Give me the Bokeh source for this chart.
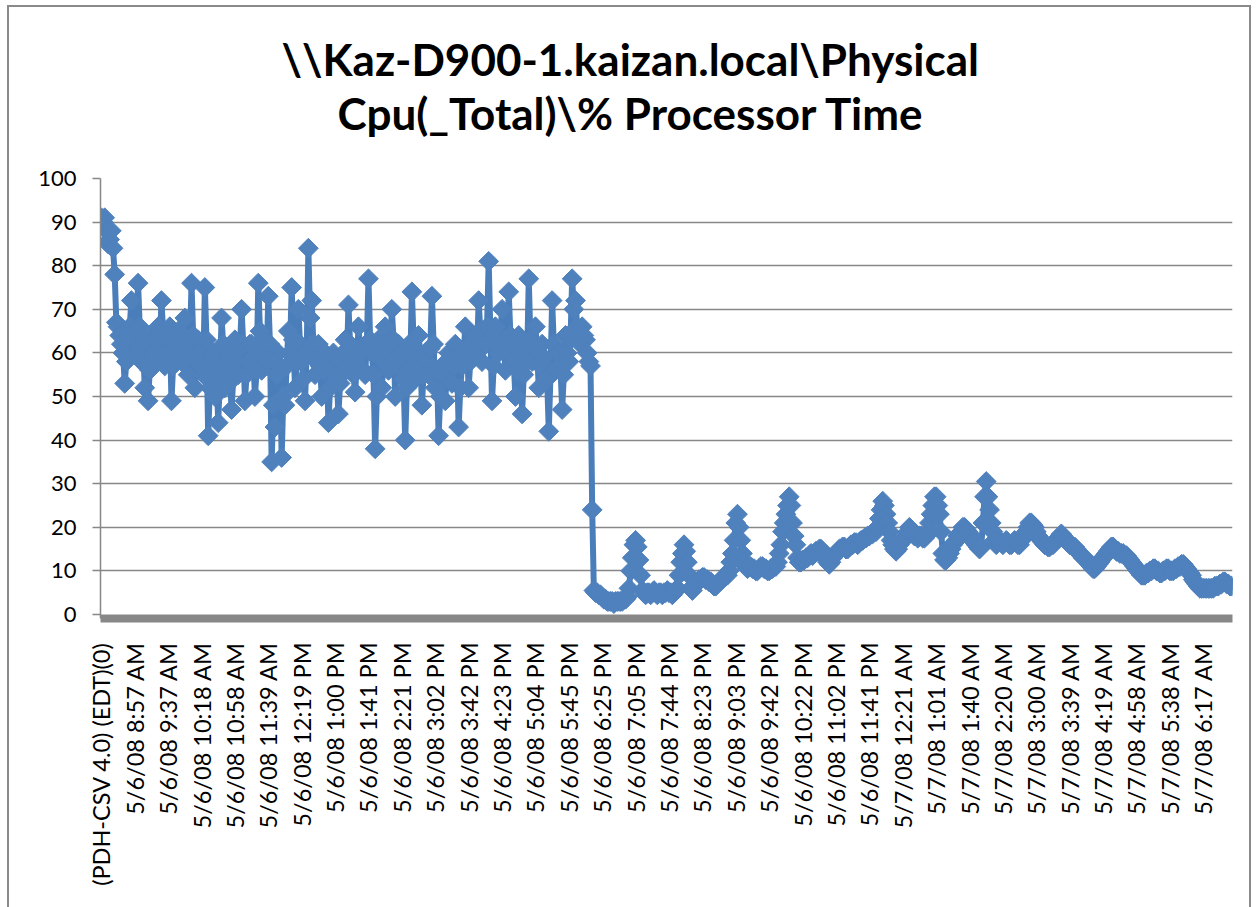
from math import pi
from bokeh.plotting import figure
from bokeh.models import ColumnDataSource, FixedTicker, Range1d, Title
from bokeh.embed import file_html
from bokeh.resources import INLINE

title_line1 = "\\\\Kaz-D900-1.kaizan.local\\Physical"
title_line2 = "Cpu(_Total)\\% Processor Time"

tick_labels = [
    "(PDH-CSV 4.0) (EDT)(0)", "5/6/08 8:57 AM", "5/6/08 9:37 AM", "5/6/08 10:18 AM",
    "5/6/08 10:58 AM", "5/6/08 11:39 AM", "5/6/08 12:19 PM", "5/6/08 1:00 PM",
    "5/6/08 1:41 PM", "5/6/08 2:21 PM", "5/6/08 3:02 PM", "5/6/08 3:42 PM",
    "5/6/08 4:23 PM", "5/6/08 5:04 PM", "5/6/08 5:45 PM", "5/6/08 6:25 PM",
    "5/6/08 7:05 PM", "5/6/08 7:44 PM", "5/6/08 8:23 PM", "5/6/08 9:03 PM",
    "5/6/08 9:42 PM", "5/6/08 10:22 PM", "5/6/08 11:02 PM", "5/6/08 11:41 PM",
    "5/7/08 12:21 AM", "5/7/08 1:01 AM", "5/7/08 1:40 AM", "5/7/08 2:20 AM",
    "5/7/08 3:00 AM", "5/7/08 3:39 AM", "5/7/08 4:19 AM", "5/7/08 4:58 AM",
    "5/7/08 5:38 AM", "5/7/08 6:17 AM",
]

# samples between two labelled categories
label_every = 20

cpu_day = [
    91, 90, 91, 88, 85, 86, 88, 84, 78, 67, 66, 64, 62, 60, 53, 58, 64, 66, 72, 63,
    60, 65, 76, 66, 58, 62, 52, 57, 49, 56, 64, 60, 58, 63, 66, 61, 72, 65, 57, 60,
    63, 66, 49, 57, 62, 64, 65, 60, 58, 62, 68, 63, 55, 60, 76, 64, 52, 58, 63, 60,
    57, 55, 75, 63, 41, 52, 58, 60, 50, 56, 44, 54, 68, 62, 52, 58, 60, 55, 47, 54,
    63, 58, 55, 61, 70, 62, 49, 55, 58, 62, 62, 59, 50, 56, 76, 65, 56, 60, 63, 58,
    73, 62, 35, 48, 43, 55, 60, 57, 36, 50, 48, 57, 65, 60, 75, 63, 52, 58, 70, 62,
    58, 54, 49, 60, 84, 68, 72, 62, 55, 58, 62, 57, 50, 56, 60, 58, 44, 52, 56, 60,
    59, 54, 46, 53, 55, 60, 63, 57, 71, 62, 58, 55, 51, 57, 66, 61, 60, 56, 55, 62,
    77, 63, 60, 55, 38, 50, 63, 59, 52, 58, 66, 62, 56, 60, 70, 63, 50, 57, 62, 60,
    58, 54, 40, 52, 60, 57, 74, 63, 54, 58, 64, 60, 48, 55, 60, 58, 55, 61, 73, 62,
    52, 56, 41, 50, 57, 55, 49, 56, 60, 58, 53, 57, 62, 59, 43, 52, 57, 60, 66, 61,
    52, 58, 60, 63, 64, 60, 72, 65, 58, 62, 62, 66, 81, 65, 49, 57, 66, 62, 60, 64,
    70, 63, 56, 60, 74, 64, 62, 58, 50, 56, 64, 61, 46, 55, 60, 58, 77, 63, 58, 61,
    66, 60, 52, 57, 62, 59, 57, 54, 42, 55, 72, 62, 56, 60, 60, 57, 47, 55, 64, 60,
    58, 63, 77, 70, 72, 66, 64, 62, 66, 64, 63, 60, 58, 57,
]
cpu_drop = [24]
cpu_evening = [
    5.5, 5, 5, 4.5, 4.5,
    4, 3.5, 3.5, 3, 3, 3, 3, 2.5, 3, 3, 3, 3, 3, 3.5, 3.5, 4,
    6, 10, 13, 16, 17, 15.5, 12.5, 9,
    5.5, 5, 4.5, 5, 5, 4.5, 5, 5.5, 5, 4.5, 5, 5, 4.5, 5, 5, 5.5, 5, 5, 4.5, 5, 5.5, 6,
    9, 12, 14, 16, 14.5, 12, 9,
    6, 5.5, 6.5, 7, 7.5, 8, 8, 8.5, 8.5, 8, 8, 7.5, 7.5, 7, 6.5, 6.5, 7, 7.5, 8, 8,
    8.5, 9, 9, 10,
    12, 14, 17, 21, 23, 20, 17, 14,
    12, 11, 10.5, 11, 11, 10.5, 10.5, 10, 10, 10.5, 11, 11, 10.5, 10.5, 10, 10, 10.5, 10.5, 11, 11,
    12, 14, 16, 19, 21, 23, 25, 27, 25, 21,
    18, 16,
    13, 12, 12, 12.5, 12.5, 13, 13, 13.5, 14, 13.5, 14, 14.5, 14.5, 15, 15, 14.5, 14, 13,
    12, 11.5, 12, 13,
    13.5, 14, 14.5, 15, 15, 15.5, 15.5, 15, 15, 15.5, 16, 16, 16.5, 16.5, 16, 16.5, 17, 17,
    17.5, 17.5, 18, 18, 18.5, 18.5,
    19, 19, 20, 22, 24, 26, 25, 23, 21, 19,
    17, 16, 15, 14.5, 15, 16, 16.5,
]
cpu_night = [
    17, 17.5, 18, 19, 20, 19.5, 19, 18, 18, 17.5, 18, 18,
    17.5, 17.5, 18, 19, 21, 23, 25, 27,
    27, 25, 23, 19,
    14, 12.5, 12.5, 13,
    14, 15, 16, 16.5, 17, 18, 18.5, 19, 20, 20, 19.5, 19,
    18.5, 18, 17, 16.5, 16, 15.5, 15, 15.5,
    21, 27, 30.5, 27, 24, 21, 19, 17,
    16, 16.5, 17, 16.5, 16, 16.5, 17, 16.5, 16, 16, 16.5, 17, 16.5, 16, 16, 17, 17.5, 18,
    19, 20, 21, 21, 20.5, 20, 19, 18,
    17.5, 17, 16.5, 16, 16, 15.5, 15.5, 16, 16, 16.5, 17, 17.5,
    18, 18.5, 18, 17.5, 17, 16.5,
    16, 16, 15.5, 15.5, 15, 14.5, 14, 13.5, 13, 13, 12.5, 12, 11.5, 11, 10.5, 10.5, 11, 11.5, 12, 12.5,
    13, 13.5, 14, 14.5, 15, 15.5, 15.5, 15, 14.5, 14.5, 14, 14,
    14, 13.5, 13.5, 13, 12.5, 12, 11.5, 11, 10.5, 10, 9.5, 9, 9, 9, 9.5, 9.5,
    10, 10, 10.5, 10.5, 10, 10, 9.5, 9.5, 10, 10, 10.5, 10.5, 10, 10, 10, 10.5,
    10.5, 11, 11, 11.5, 11.5, 11, 10.5, 10, 9.5, 9,
    8, 7.5, 7, 6.5, 6, 6, 6, 6, 6, 6, 6, 6, 6, 6.5, 6.5, 6.5, 7, 7,
    7.5, 7.5, 7, 7, 6.5, 6.5,
]

values = cpu_day + cpu_drop + cpu_evening + cpu_night
idx = list(range(len(values)))
tick_pos = [k * label_every for k in range(len(tick_labels))]

src = ColumnDataSource(dict(x=idx, y=values))

GRID = "#878787"
FONT = "Lato"

p = figure(width=1244, height=902, output_backend="svg", toolbar_location=None,
           x_range=Range1d(-0.5, len(values) - 0.5), y_range=Range1d(-0.92, 100),
           min_border_left=91, min_border_right=21, min_border_top=171,
           min_border_bottom=291)
p.styles = {"border-left": "2px solid #8a8a8a", "border-top": "2px solid #8a8a8a",
            "border-right": "2px solid #8a8a8a", "box-sizing": "border-box",
            "margin-left": "7px", "margin-top": "5px"}
p.outline_line_color = None
p.background_fill_color = "white"
p.border_fill_color = "white"

p.line("x", "y", source=src, line_color="#4A7EBB", line_width=6)
p.scatter("x", "y", source=src, marker="square", angle=pi / 4, size=14,
          fill_color="#4F81BD", line_color="#4F81BD", line_width=1)

# y axis
p.yaxis.ticker = FixedTicker(ticks=list(range(0, 101, 10)))
p.yaxis.axis_line_color = GRID
p.yaxis.axis_line_width = 1.5
p.yaxis.major_tick_line_color = GRID
p.yaxis.major_tick_line_width = 1.5
p.yaxis.major_tick_out = 8
p.yaxis.major_tick_in = 0
p.yaxis.minor_tick_line_color = None
p.yaxis.major_label_standoff = 16
p.yaxis.major_label_text_font = FONT
p.yaxis.major_label_text_font_size = "22px"
p.yaxis.major_label_text_color = "black"

p.ygrid.ticker = FixedTicker(ticks=list(range(10, 101, 10)))
p.ygrid.grid_line_color = GRID
p.ygrid.grid_line_width = 1.5
p.xgrid.visible = False

# x axis
p.xaxis.ticker = FixedTicker(ticks=tick_pos)
p.xaxis.major_label_overrides = {t: lab for t, lab in zip(tick_pos, tick_labels)}
p.xaxis.major_label_orientation = pi / 2
p.xaxis.axis_line_color = GRID
p.xaxis.axis_line_width = 8
p.xaxis.major_tick_line_color = None
p.xaxis.minor_tick_line_color = None
p.xaxis.major_tick_out = 0
p.xaxis.major_label_standoff = 24
p.xaxis.major_label_text_font = FONT
p.xaxis.major_label_text_font_size = "23.5px"
p.xaxis.major_label_text_color = "black"

# chart title: a blank spacer next to the frame, then line 2, then line 1
p.add_layout(Title(text=" ", text_font_size="1px", standoff=37), "above")
p.add_layout(Title(text=title_line2, align="left", offset=237, standoff=0,
                   text_font=FONT, text_font_size="44px", text_font_style="bold",
                   text_color="black"), "above")
p.add_layout(Title(text=title_line1, align="left", offset=181, standoff=0,
                   text_font=FONT, text_font_size="44px", text_font_style="bold",
                   text_color="black"), "above")

open("out.html", "w").write(file_html(p, INLINE))
